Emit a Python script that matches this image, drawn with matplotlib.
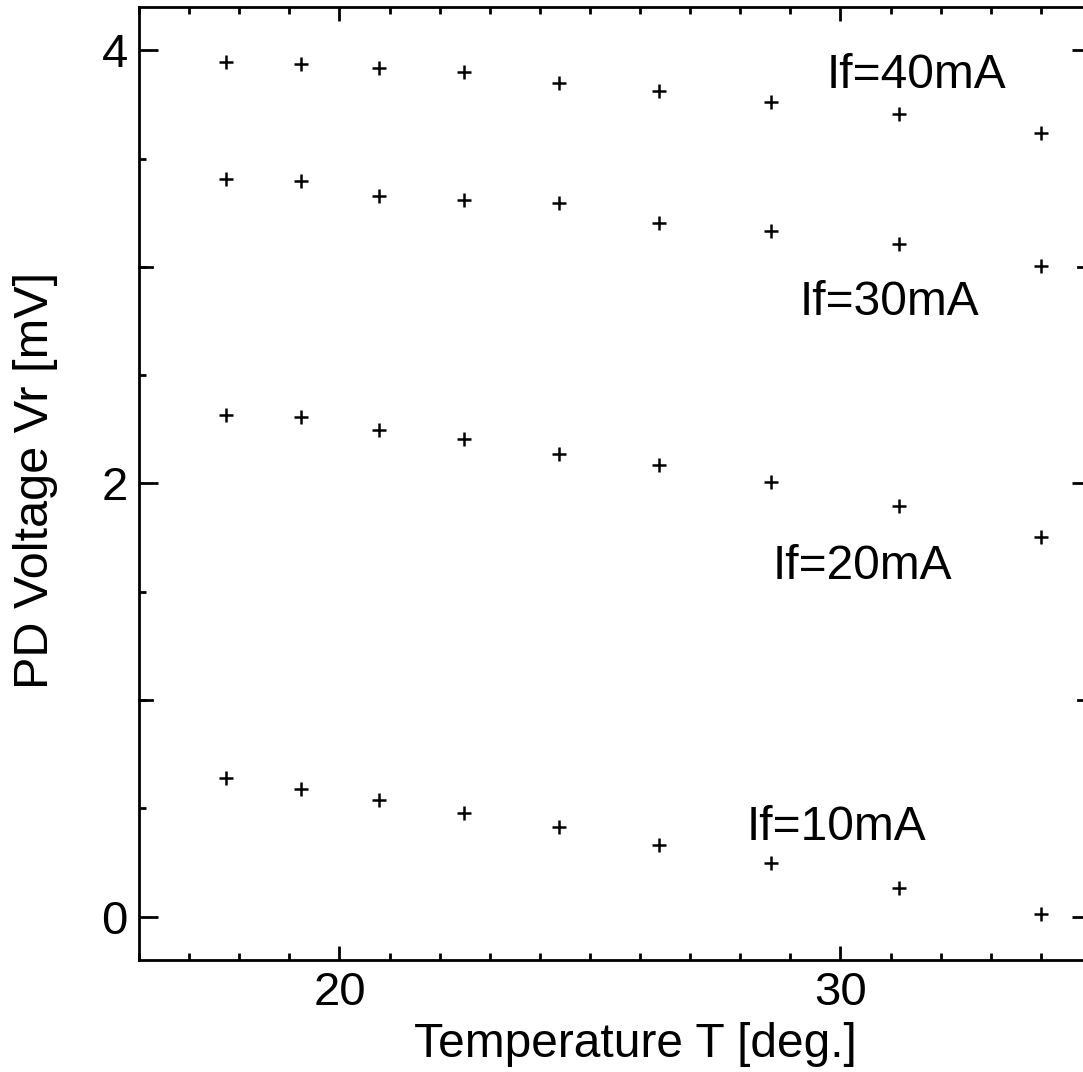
import numpy as np
import matplotlib.pyplot as plt
from matplotlib.ticker import MultipleLocator, FixedLocator

plt.rcParams['font.family'] = ['Liberation Sans', 'DejaVu Sans']

# temperature points (deg.)
temp = [17.74, 19.24, 20.78, 22.48, 24.38, 26.38, 28.62, 31.16, 34.0]

# PD voltage for each forward current (mV)
vr_40 = [3.944, 3.935, 3.917, 3.898, 3.847, 3.810, 3.759, 3.704, 3.616]
vr_30 = [3.407, 3.398, 3.329, 3.310, 3.296, 3.204, 3.167, 3.106, 3.005]
vr_20 = [2.315, 2.306, 2.245, 2.204, 2.134, 2.083, 2.005, 1.894, 1.755]
vr_10 = [0.639, 0.588, 0.537, 0.477, 0.412, 0.329, 0.250, 0.134, 0.014]

labels = ['If=40mA', 'If=30mA', 'If=20mA', 'If=10mA']
label_pos = [(29.72, 3.885), (29.18, 2.835), (28.64, 1.615), (28.12, 0.41)]

fig = plt.figure(figsize=(10.83, 10.72), dpi=100)
ax = fig.add_axes([0.1284, 0.1045, 0.8790, 0.8890])

for vr in [vr_40, vr_30, vr_20, vr_10]:
    ax.plot(temp, vr, linestyle='none', marker='+', color='black',
            markersize=10, markeredgewidth=1.8)

for lab, (x, y) in zip(labels, label_pos):
    ax.text(x, y, lab, fontsize=34.5, ha='left', va='center')

ax.set_xlim(16, 35)
ax.set_ylim(-0.2, 4.2)

for s in ax.spines.values():
    s.set_linewidth(2.0)

ax.xaxis.set_major_locator(FixedLocator([20, 30]))
ax.xaxis.set_minor_locator(MultipleLocator(1))
ax.yaxis.set_major_locator(FixedLocator([0, 2, 4]))
ax.yaxis.set_minor_locator(MultipleLocator(0.5))

ax.tick_params(which='both', direction='in', top=True, right=True, width=2.0,
               labelsize=34, pad=8)
ax.tick_params(axis='x', which='major', length=10)
ax.tick_params(axis='x', which='minor', length=5)
ax.tick_params(axis='y', which='major', length=14)
ax.tick_params(axis='y', which='minor', length=5)

# medium ticks at 1 and 3 on the y axis
for yv in [1, 3]:
    ax.plot([16, 16 + 13 / 50], [yv, yv], color='black', lw=2.0, clip_on=False)
    ax.plot([35, 35 - 13 / 50], [yv, yv], color='black', lw=2.0, clip_on=False)

fig.text(0.587, 0.026, 'Temperature T [deg.]', fontsize=34.5, ha='center', va='center')
fig.text(0.033, 0.552, 'PD Voltage Vr [mV]', fontsize=35, ha='center', va='center',
         rotation=90)

fig.savefig('out.png', dpi=100)
